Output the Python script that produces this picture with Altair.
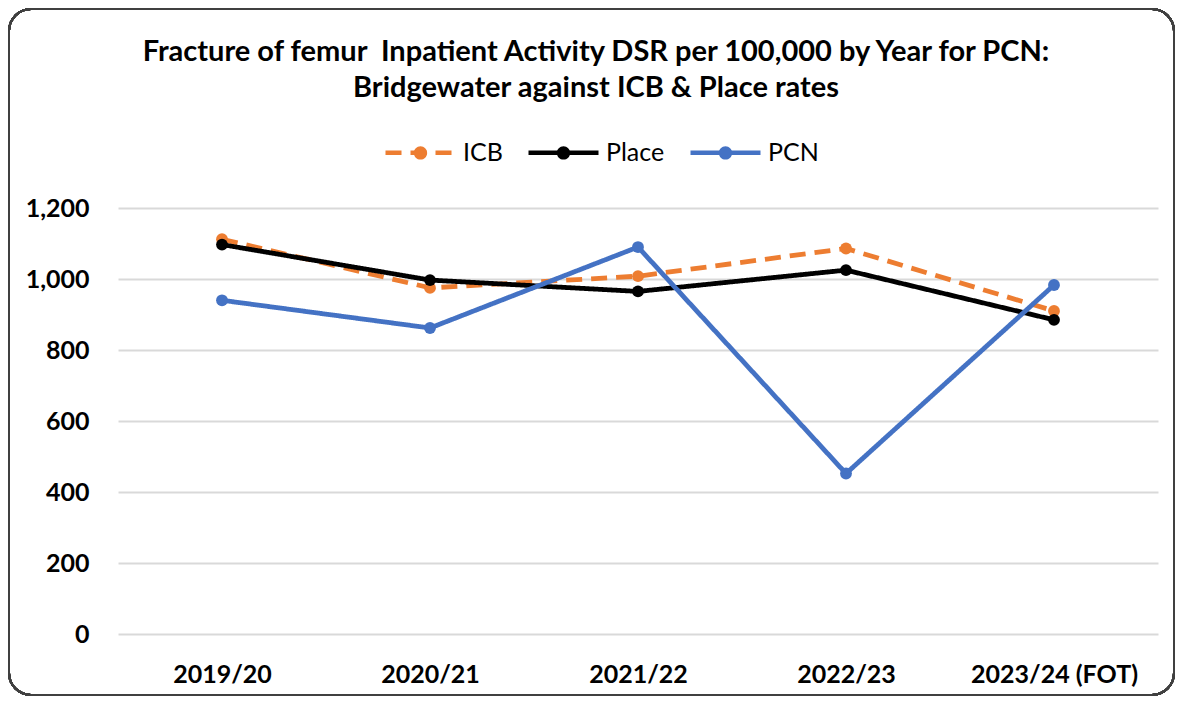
import altair as alt
import pandas as pd

years = ["2019/20", "2020/21", "2021/22", "2022/23", "2023/24 (FOT)"]
icb = [1112, 975, 1008, 1086, 910]
place = [1097, 997, 965, 1025, 885]
pcn = [940, 862, 1090, 452, 983]

series = ["ICB", "Place", "PCN"]
markers = [s + " " for s in series]
colors = ["#ED7D31", "#000000", "#4472C4"]

rows = []
for name, mk, vals in zip(series, markers, [icb, place, pcn]):
    for yr, v in zip(years, vals):
        rows.append({"Year": yr, "Series": name, "Marker": mk, "Value": v})
df = pd.DataFrame(rows)

FONT = "Lato"
LEG_X, LEG_Y = 265, -93
SYM_SIZE = 4900
COL_PAD = 16
LAB_OFF = 5
circle_path = "M-1,0L1,0M0.19,0A0.19,0.19,0,1,1,-0.19,0A0.19,0.19,0,1,1,0.19,0Z"

color = alt.Color("Series:N", scale=alt.Scale(domain=series, range=colors),
                  legend=alt.Legend(title=None, orient="none", legendX=LEG_X, legendY=LEG_Y,
                                    direction="horizontal", labelFontSize=25, labelFont=FONT,
                                    labelColor="#000000", symbolStrokeWidth=4.5,
                                    symbolSize=SYM_SIZE, symbolType="stroke", columnPadding=COL_PAD,
                                    labelOffset=LAB_OFF))
fill = alt.Fill("Marker:N", scale=alt.Scale(domain=markers, range=colors),
                legend=alt.Legend(title=None, orient="none", legendX=LEG_X, legendY=LEG_Y,
                                  direction="horizontal", labelFontSize=25, labelFont=FONT,
                                  labelOpacity=0, symbolStrokeWidth=4.5,
                                  symbolStrokeColor="transparent", symbolOpacity=1,
                                  symbolSize=SYM_SIZE, symbolType=circle_path, columnPadding=COL_PAD,
                                  labelOffset=LAB_OFF))
dash = alt.StrokeDash("Series:N", scale=alt.Scale(domain=series, range=[[16, 9], [1, 0], [1, 0]]),
                      legend=None)

x = alt.X("Year:N", sort=years, title=None,
          axis=alt.Axis(labelAngle=0, labelFontWeight="bold", labelFontSize=25, labelFont=FONT,
                        labelColor="#000000", labelPadding=28, domain=False, ticks=False, grid=False))
y = alt.Y("Value:Q", scale=alt.Scale(domain=[0, 1200]), title=None,
          axis=alt.Axis(values=[0, 200, 400, 600, 800, 1000, 1200], format=",d",
                        labelFontWeight="bold", labelFontSize=25, labelFont=FONT,
                        labelColor="#000000", labelPadding=29, domain=False, ticks=False,
                        gridColor="#D9D9D9", gridWidth=2))

border = alt.Chart(df).mark_rect(fill=None, stroke="#404040", strokeWidth=2, cornerRadius=22).encode(
    x=alt.value(-109), x2=alt.value(1056), y=alt.value(-199), y2=alt.value(487))

layers = []
for s in series:
    sub = df[df.Series == s]
    layers.append(alt.Chart(sub).mark_line(strokeWidth=4.8).encode(x=x, y=y, color=color, strokeDash=dash))
    layers.append(alt.Chart(sub).mark_circle(size=140, opacity=1).encode(x=x, y=y, fill=fill))

chart = alt.layer(border, *layers).properties(
    width=1040, height=426,
    title=alt.Title(["Fracture of femur\u00a0 Inpatient Activity DSR per 100,000 by Year for PCN:",
                     "Bridgewater against ICB & Place rates"],
                    fontSize=29, font=FONT, fontWeight="bold", color="#000000",
                    lineHeight=36, anchor="middle", dx=-42, offset=-95),
    autosize=alt.AutoSizeParams(type="none"),
    padding={"left": 110, "top": 200, "right": 17, "bottom": 62},
).configure_view(stroke=None)

chart.save("out.html", embed_options={"renderer": "svg", "actions": False})
